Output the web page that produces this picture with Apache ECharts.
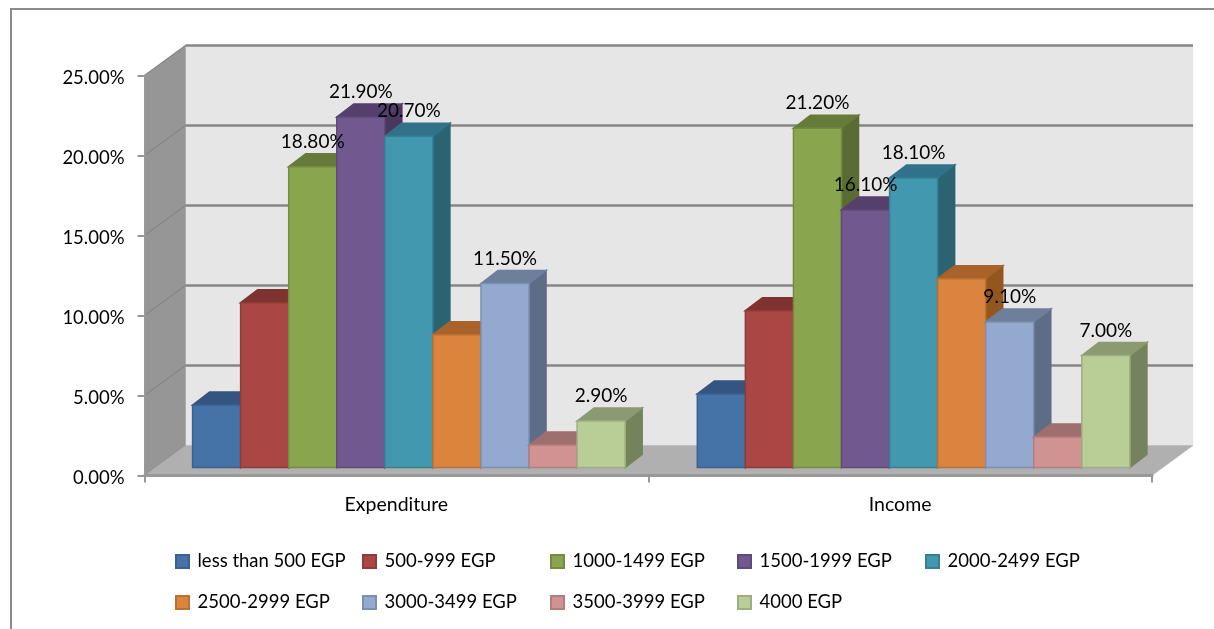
<!DOCTYPE html>
<html>
<head>
<meta charset="utf-8">
<style>html,body{margin:0;padding:0;background:#fff}#c{width:1214px;height:629px}</style>
<script src="https://cdn.jsdelivr.net/npm/echarts@6/dist/echarts.min.js"></script>
</head>
<body>
<div id="c"></div>
<script>
const categories = ['Expenditure', 'Income'];
const seriesNames = ['less than 500 EGP', '500-999 EGP', '1000-1499 EGP', '1500-1999 EGP', '2000-2499 EGP', '2500-2999 EGP', '3000-3499 EGP', '3500-3999 EGP', '4000 EGP'];
const lessThan500 = [3.9, 4.6];
const from500 = [10.3, 9.8];
const from1000 = [18.8, 21.2];
const from1500 = [21.9, 16.1];
const from2000 = [20.7, 18.1];
const from2500 = [8.3, 11.8];
const from3000 = [11.5, 9.1];
const from3500 = [1.4, 1.9];
const from4000 = [2.9, 7.0];
const seriesValues = [lessThan500, from500, from1000, from1500, from2000, from2500, from3000, from3500, from4000];
const labelled = [false, false, true, true, true, false, true, false, true];
const frontColors = ['#4572a7', '#aa4643', '#89a54e', '#71588f', '#4198af', '#db843d', '#93a9cf', '#d19392', '#b9cd96'];
const topColors = ['#34557f', '#7f3331', '#667b3a', '#553f6d', '#31728a', '#a8622a', '#6e7f9b', '#9e6f6e', '#8b9a70'];
const sideColors = ['#2c4a70', '#6e2c2b', '#5a6c33', '#4a3760', '#2a6372', '#94561f', '#5d6c87', '#8a6160', '#75835d'];
const borderColors = ['#3a6191', '#913b39', '#748c42', '#5f4a79', '#377f94', '#ba7033', '#7d8fb0', '#b27d7c', '#9dae80'];
const legendLefts = [175, 362, 550, 737, 925, 175, 362, 550, 737];
const legendTops = [552, 552, 552, 552, 552, 593, 593, 593, 593];
const yTicks = [0, 5, 10, 15, 20, 25];

const FONT = 'Lato';
const WALL_DX = 41, WALL_DY = 30, BAR_SHIFT_Y = 8, BAR_DX = 17, BAR_DY = 13, BANDS = 10.48;
const BAR_SHIFT_X = [12.5, 13.5];

function poly(points, fill, stroke, z2) {
  return {type: 'polygon', z2: z2, silent: true, shape: {points: points},
    style: {fill: fill, stroke: stroke || fill, lineWidth: stroke ? 1.5 : 0.5}};
}

function wallsItem(params, api) {
  const cs = params.coordSys;
  const L = cs.x, R = cs.x + cs.width;
  const T = api.coord([0, 25])[1], B = api.coord([0, 0])[1];
  const kids = [
    poly([[L + WALL_DX, T - WALL_DY], [R + WALL_DX, T - WALL_DY], [R + WALL_DX, B - WALL_DY], [L + WALL_DX, B - WALL_DY]], '#e6e6e6', null, 0),
    poly([[L, T], [L + WALL_DX, T - WALL_DY], [L + WALL_DX, B - WALL_DY], [L, B]], '#969696', null, 0),
    poly([[L, B], [L + WALL_DX, B - WALL_DY], [R + WALL_DX, B - WALL_DY], [R, B]], '#b0b0b0', null, 2)
  ];
  yTicks.forEach(function (v) {
    const y = api.coord([0, v])[1];
    kids.push({type: 'polyline', z2: 1, silent: true,
      shape: {points: [[L, y], [L + WALL_DX, y - WALL_DY]]},
      style: {fill: null, stroke: '#868686', lineWidth: 1.2}});
    if (v > 0) kids.push({type: 'polyline', z2: 1, silent: true,
      shape: {points: [[L + WALL_DX, y - WALL_DY], [R + WALL_DX, y - WALL_DY]]},
      style: {fill: null, stroke: '#868686', lineWidth: 2.5}});
  });
  return {type: 'group', children: kids};
}

function barItem(i) {
  return function (params, api) {
    const cat = api.value(0), val = api.value(1);
    const band = api.size([1, 0])[0];
    const w = band / BANDS;
    const cx = api.coord([cat, 0])[0];
    const x0 = cx + (i - 4.5) * w + BAR_SHIFT_X[cat], x1 = x0 + w;
    const y0 = api.coord([cat, 0])[1] - BAR_SHIFT_Y;
    const y1 = api.coord([cat, val])[1] - BAR_SHIFT_Y;
    const kids = [
      poly([[x1, y1], [x1 + BAR_DX, y1 - BAR_DY], [x1 + BAR_DX, y0 - BAR_DY], [x1, y0]], sideColors[i], sideColors[i], 10 + i),
      poly([[x0, y1], [x0 + BAR_DX, y1 - BAR_DY], [x1 + BAR_DX, y1 - BAR_DY], [x1, y1]], topColors[i], topColors[i], 10 + i),
      poly([[x0, y1], [x1, y1], [x1, y0], [x0, y0]], frontColors[i], borderColors[i], 10 + i)
    ];
    if (labelled[i]) {
      kids.push({type: 'text', z2: 100, silent: true,
        style: {x: x0 + w / 2, y: y1 - 25, text: val.toFixed(2) + '%', fill: '#000',
          font: '19px ' + FONT, align: 'center', verticalAlign: 'middle'}});
    }
    return {type: 'group', children: kids};
  };
}

const series = [{
  type: 'custom', z: 1, silent: true, renderItem: wallsItem,
  data: [[0, 0]], encode: {x: 0, y: 1}, legendHoverLink: false
}];
seriesNames.forEach(function (name, i) {
  series.push({
    type: 'custom', name: name, z: 2, silent: true, renderItem: barItem(i),
    itemStyle: {color: frontColors[i], borderColor: borderColors[i], borderWidth: 1.5},
    encode: {x: 0, y: 1},
    data: seriesValues[i].map(function (v, c) { return [c, v]; })
  });
});

const legends = seriesNames.map(function (name, i) {
  return {
    data: [{name: name, icon: 'rect'}], left: legendLefts[i], top: legendTops[i],
    itemWidth: 13, itemHeight: 13, selectedMode: false, padding: 0,
    textStyle: {fontFamily: FONT, fontSize: 18.5, color: '#000', padding: [0, 0, 5, 3.5]}
  };
});

const chart = echarts.init(document.getElementById('c'), null, {renderer: 'canvas'});
chart.setOption({
  animation: false,
  backgroundColor: '#fff',
  grid: {left: 144.5, right: 62, top: 75.5, bottom: 153.5, containLabel: false},
  xAxis: {
    type: 'category', data: categories, z: 5,
    axisLine: {show: true, onZero: false, lineStyle: {color: '#989898', width: 3}},
    axisTick: {show: true, alignWithLabel: false, length: 7, lineStyle: {color: '#989898', width: 2}},
    axisLabel: {margin: 19, color: '#000', fontFamily: FONT, fontSize: 19.5},
    splitLine: {show: false}
  },
  yAxis: {
    type: 'value', min: 0, max: 25, interval: 5, z: 5,
    axisLine: {show: true, lineStyle: {color: '#989898', width: 2}},
    axisTick: {show: true, length: 7, lineStyle: {color: '#989898', width: 2}},
    axisLabel: {margin: 20, color: '#000',
      formatter: function (v) { return '{t|' + v.toFixed(2) + '%}'; },
      rich: {t: {fontFamily: FONT, fontSize: 18.5, color: '#000', padding: [5, 0, 0, 0]}}},
    splitLine: {show: false}
  },
  legend: legends,
  tooltip: {show: false},
  graphic: [{
    type: 'polyline', silent: true,
    shape: {points: [[11, 629], [11, 9], [1214, 9]]},
    style: {fill: null, stroke: '#8c8c8c', lineWidth: 2}
  }],
  series: series
});
</script>
</body>
</html>
